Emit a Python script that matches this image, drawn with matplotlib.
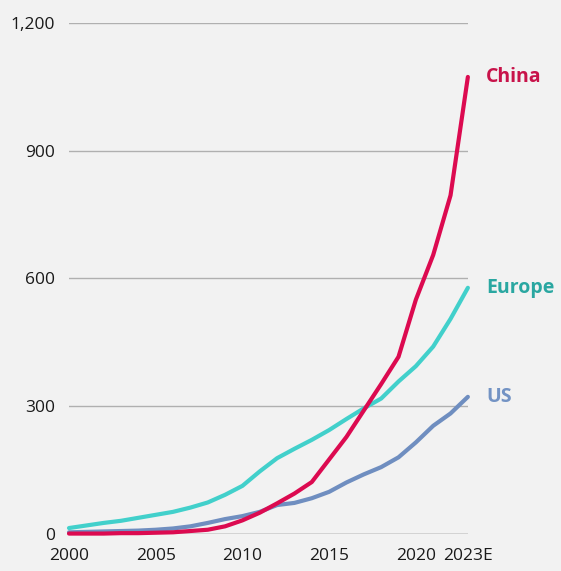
import numpy as np
import matplotlib.pyplot as plt

years = np.arange(2000, 2024)
china = [1, 1, 1, 2, 2, 3, 4, 7, 10, 18, 32, 50, 72, 95, 122, 175, 228, 290, 352, 416, 550, 655, 795, 1073]
europe = [14, 20, 26, 31, 38, 45, 52, 62, 74, 92, 113, 147, 178, 200, 221, 244, 270, 295, 318, 358, 394, 440, 505, 578]
us = [4, 5, 6, 7, 8, 10, 13, 18, 26, 35, 42, 52, 68, 73, 84, 99, 121, 140, 157, 180, 215, 254, 283, 322]

series = [
    ("China", china, "#DC0A50", "#C8134A"),
    ("Europe", europe, "#42D0CB", "#2AA7A1"),
    ("US", us, "#6F8EC0", "#7393C4"),
]

x_ticks = [2000, 2005, 2010, 2015, 2020, 2023]
x_labels = ["2000", "2005", "2010", "2015", "2020", "2023E"]
y_ticks = [0, 300, 600, 900, 1200]

bg = "#F2F2F2"
plt.rcParams["font.family"] = ["Open Sans", "DejaVu Sans"]

fig = plt.figure(figsize=(5.61, 5.71), dpi=100, facecolor=bg)
ax = fig.add_axes([0.123, 0.0648, 0.711, 0.8952], facecolor=bg)

for y in y_ticks:
    ax.axhline(y, color="#555555" if y == 0 else "#B0B0B0", lw=1.0, zorder=1)

# US first so China sits on top
for name, vals, color, _ in reversed(series):
    ax.plot(years, vals, color=color, lw=3.0, solid_capstyle="round",
            solid_joinstyle="round", clip_on=False, zorder=3)

for name, vals, _, lab_color in series:
    ax.annotate(name, (years[-1], vals[-1]), xytext=(13, 0),
                textcoords="offset points", va="center", ha="left",
                fontsize=14, fontweight="bold", color=lab_color,
                annotation_clip=False)

ax.set_xlim(2000, 2023)
ax.set_ylim(0, 1200)
ax.set_xticks(x_ticks)
ax.set_xticklabels(x_labels)
ax.set_yticks(y_ticks)
ax.set_yticklabels([f"{v:,}" for v in y_ticks])
ax.tick_params(length=0, labelsize=12.5, colors="#1a1a1a")
ax.tick_params(axis="y", pad=10)
ax.tick_params(axis="x", pad=10)
for s in ax.spines.values():
    s.set_visible(False)

fig.savefig("out.png", dpi=100, facecolor=bg)
